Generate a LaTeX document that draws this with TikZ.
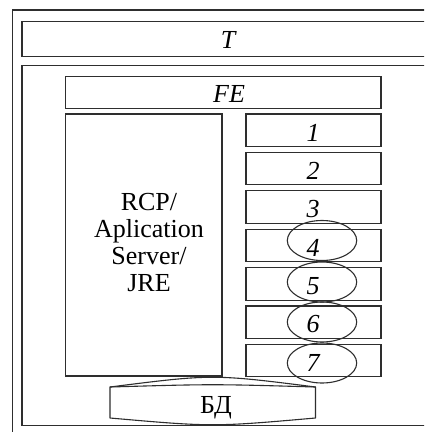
\documentclass[tikz,border=0pt]{standalone}
\usepackage{fontspec}
\setmainfont{Liberation Serif}
\usetikzlibrary{shapes.geometric}
\definecolor{lc}{HTML}{2E2E2E}
\begin{document}
\begin{tikzpicture}[x=1pt,y=-1pt,
  lbl/.style={font=\fontsize{26}{27}\selectfont},
  box/.style={draw=lc, line width=1.1pt, inner sep=0pt, lbl},
  oval/.style={draw=lc, line width=1.1pt, ellipse, inner sep=0pt,
    minimum width=69.4pt, minimum height=40pt}]
\useasboundingbox (0,0) rectangle (424,432);
\clip (0,0) rectangle (424,432);
\fill[white] (0,0) rectangle (424,432);
% outer frames
\node[box, minimum width=430.7pt, minimum height=432pt] (outer) at (227.7,226) {};
\node[box, minimum width=411.4pt, minimum height=35.4pt] (tbox) at (227.7,39) {};
\node[lbl, inner sep=0pt] (tlbl) at (228,39.5) {\itshape T};
\node[box, minimum width=411pt, minimum height=360pt] (inner) at (227.5,245.7) {};
\node[box, minimum width=315.3pt, minimum height=31.6pt] (fe) at (223.3,92.5) {};
\node[lbl, inner sep=0pt] (felbl) at (229,93.5) {\itshape FE};
\node[box, minimum width=156.3pt, minimum height=262pt] (rcp) at (143.85,245) {};
\node[lbl, inner sep=0pt, align=center] (rcplbl) at (149,243)
  {RCP/\\Aplication\\Server/\\JRE};
% numbered boxes
\foreach \i in {1,...,7}{
  \node[box, minimum width=135pt, minimum height=32.5pt] (b\i) at (313.5,{130.25+38.4*(\i-1)}) {};
  \node[lbl, inner sep=0pt] (n\i) at (313,{132.5+38.4*(\i-1)}) {\itshape \i};
}
% ellipses
\node[oval] (e4) at (322,240.5) {};
\node[oval] (e5) at (322,282) {};
\node[oval] (e6) at (322,322) {};
\node[oval] (e7) at (322,363) {};
% database
\draw[lc, line width=1.1pt, line join=round]
  (110,387) .. controls (212.7,374) .. (315.5,387)
  -- (315.5,418) .. controls (212.7,427) .. (110,418) -- cycle;
\draw[lc, line width=1.1pt] (110,387) .. controls (212.7,384) .. (315.5,387);
\node[lbl, inner sep=0pt] (db) at (216,407.5) {БД};
\end{tikzpicture}
\end{document}
